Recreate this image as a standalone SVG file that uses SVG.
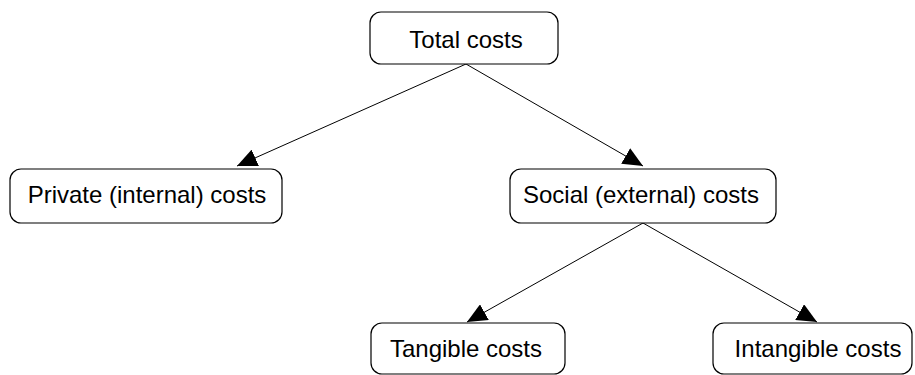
<svg xmlns="http://www.w3.org/2000/svg" width="915" height="375" viewBox="0 0 915 375">
<style>
.box{fill:#fff;stroke:#000;stroke-width:1.2}
.lbl{font-family:"Liberation Sans",Arial,sans-serif;font-size:24px;fill:#000;text-anchor:middle}
.edge{stroke:#000;stroke-width:1;fill:none;marker-end:url(#arr)}
</style>
<defs>
<marker id="arr" markerUnits="userSpaceOnUse" markerWidth="20" markerHeight="18" viewBox="0 0 20 18" refX="20" refY="9" orient="auto">
<path d="M0,0 L20,9 L0,18 Z" fill="#000"/>
</marker>
</defs>
<g id="connectors">
<line class="edge" x1="466" y1="64" x2="237" y2="166"/>
<line class="edge" x1="466" y1="64" x2="643" y2="166"/>
<line class="edge" x1="643" y1="223" x2="467" y2="322"/>
<line class="edge" x1="643" y1="223" x2="817" y2="322"/>
</g>
<g id="total">
<rect class="box" x="370" y="12" width="188" height="52" rx="11"/>
<text class="lbl" x="466" y="48">Total costs</text>
</g>
<g id="private">
<rect class="box" x="10" y="169" width="272" height="54" rx="11"/>
<text class="lbl" x="147" y="203">Private (internal) costs</text>
</g>
<g id="social">
<rect class="box" x="510" y="169" width="266" height="54" rx="11"/>
<text class="lbl" x="641" y="203">Social (external) costs</text>
</g>
<g id="tangible">
<rect class="box" x="371" y="323" width="194" height="51" rx="11"/>
<text class="lbl" x="466" y="357">Tangible costs</text>
</g>
<g id="intangible">
<rect class="box" x="713" y="323" width="199" height="51" rx="11"/>
<text class="lbl" x="818" y="357">Intangible costs</text>
</g>
</svg>
